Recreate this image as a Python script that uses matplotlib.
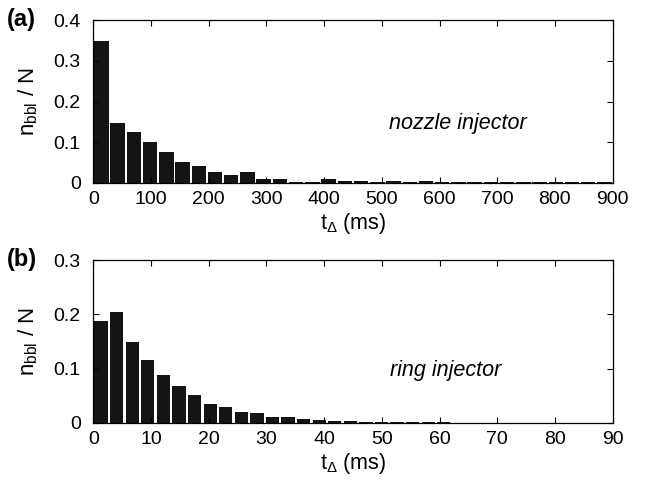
import numpy as np
import matplotlib
matplotlib.use("Agg")
import matplotlib.pyplot as plt

plt.rcParams["font.family"] = ["Liberation Sans", "DejaVu Sans"]
plt.rcParams["mathtext.fontset"] = "custom"
plt.rcParams["mathtext.rm"] = "Liberation Sans"
plt.rcParams["mathtext.it"] = "Liberation Sans:italic"

# (a) nozzle injector: 32 bins of 28.125 ms over 0-900 ms
nozzle_centers = (np.arange(32) + 0.5) * 28.125
nozzle_frac = [0.349, 0.147, 0.126, 0.100, 0.0764, 0.050, 0.040, 0.0255,
               0.020, 0.0255, 0.008, 0.008, 0.002, 0.0015, 0.008, 0.005,
               0.005, 0.002, 0.003, 0.001, 0.003, 0.001, 0.001, 0.001,
               0.001, 0.001, 0.0005, 0.0005, 0.002, 0.0005, 0.0005, 0.0005]

# (b) ring injector: bins of 2.7 ms
ring_centers = 1.35 + 2.7 * np.arange(33)
ring_frac = [0.188, 0.204, 0.1485, 0.1165, 0.0887, 0.0678, 0.0505, 0.0339,
             0.029, 0.019, 0.017, 0.0108, 0.0103, 0.007, 0.005, 0.0038,
             0.0026, 0.0018, 0.0012, 0.0006, 0.0015, 0.001, 0.0004, 0.0003,
             0.0002, 0.0002, 0.0002, 0.0001, 0.0001, 0.0001, 0.0001, 0.0001,
             0.0001]

panels = [
    dict(tag="(a)", x=nozzle_centers, y=nozzle_frac, width=25.0,
         xmax=900, xstep=100, ymax=0.4, note="nozzle injector",
         note_xy=(632, 0.145)),
    dict(tag="(b)", x=ring_centers, y=ring_frac, width=2.3,
         xmax=90, xstep=10, ymax=0.3, note="ring injector",
         note_xy=(61, 0.097)),
]

W, H = 646, 486
fig = plt.figure(figsize=(W / 100, H / 100), dpi=100)

left, right = 93.3, 612.6
tops = [20.3, 260.3]
ax_h = 162.4

for p, top in zip(panels, tops):
    ax = fig.add_axes([left / W, 1 - (top + ax_h) / H, (right - left) / W, ax_h / H])
    ax.bar(p["x"], p["y"], width=p["width"], color="#141414", edgecolor="none")
    ax.set_xlim(0, p["xmax"])
    ax.set_ylim(0, p["ymax"])
    ax.set_xticks(np.arange(0, p["xmax"] + 1, p["xstep"]))
    yt = np.round(np.arange(0, p["ymax"] + 1e-9, 0.1), 1)
    ax.set_yticks(yt)
    ax.set_yticklabels(["0" if v == 0 else f"{v:g}" for v in yt])
    ax.tick_params(direction="in", top=True, right=True, length=4, width=0.8,
                   labelsize=14)
    ax.tick_params(axis="x", pad=6)
    ax.tick_params(axis="y", pad=9)
    for s in ax.spines.values():
        s.set_linewidth(0.9)
    ax.set_xlabel(r"t$_{\Delta}$ (ms)", fontsize=15.5, labelpad=2)
    ax.set_ylabel(r"n$_{\mathregular{bbl}}$ / N", fontsize=16, labelpad=10)
    ax.text(p["note_xy"][0], p["note_xy"][1], p["note"], fontsize=15.5,
            style="italic", ha="center", va="center")
    fig.text(7 / W, 1 - (top - 1) / H, p["tag"], fontsize=17, fontweight="bold",
             ha="left", va="center")

fig.savefig("out.png", dpi=100)
